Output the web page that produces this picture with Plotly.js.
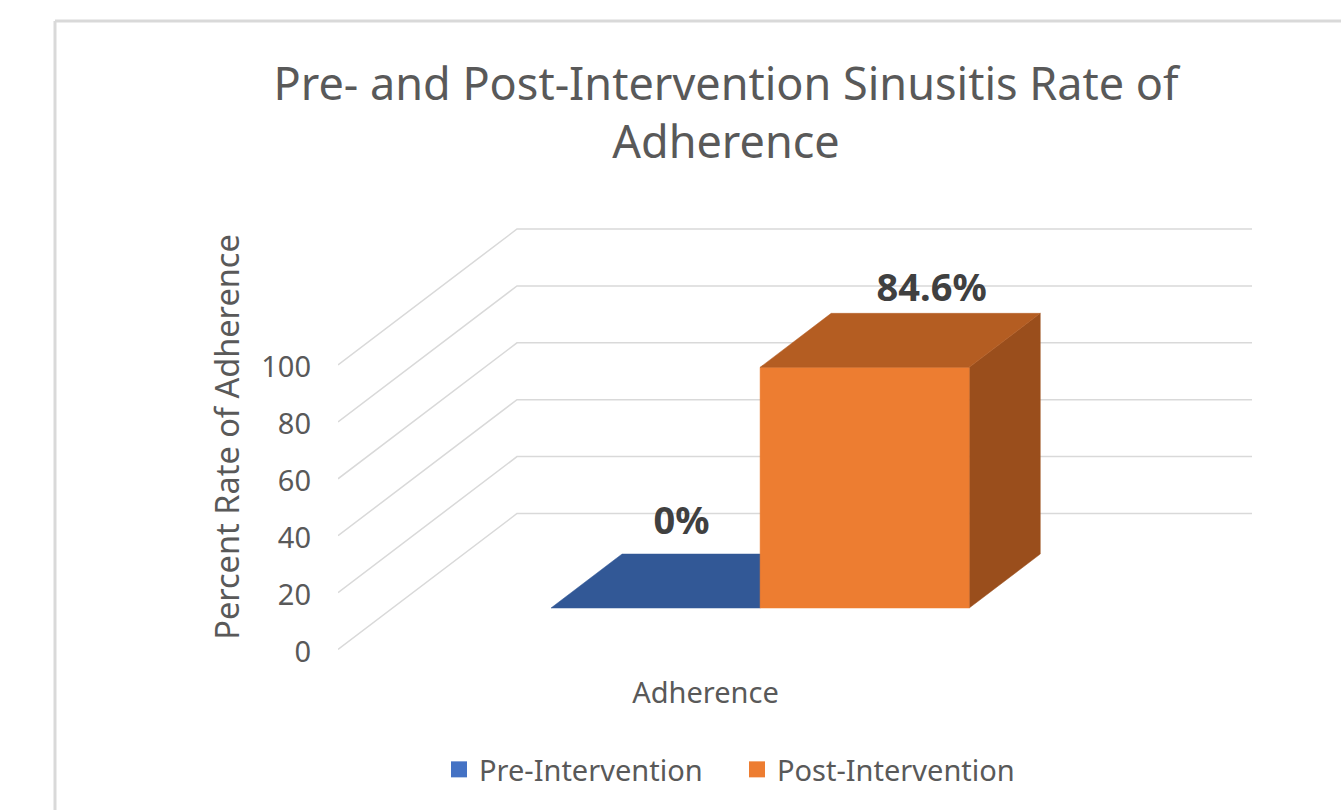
<!DOCTYPE html>
<html>
<head>
<meta charset="utf-8">
<script src="https://cdn.plot.ly/plotly-3.0.1.min.js"></script>
<style>html,body{margin:0;padding:0;background:#fff;overflow:hidden}</style>
</head>
<body>
<div id="chart" style="width:1341px;height:810px"></div>
<script>
// ---- data ----
const seriesNames = ["Pre-Intervention", "Post-Intervention"];
const seriesValues = [0, 84.6];
const valueLabels = ["0%", "84.6%"];
const tickValues = [0, 20, 40, 60, 80, 100];
const categoryName = "Adherence";
const titleLines = ["Pre- and Post-Intervention Sinusitis Rate of", "Adherence"];
const yTitle = "Percent Rate of Adherence";

// ---- styles ----
const frontColors = ["#4472C4", "#ED7D31"];
const topColors = ["#325896", "#B45D22"];
const sideColors = ["#2A4A7E", "#9A4E1C"];
const FONT = '"Noto Sans", sans-serif';

// ---- layout in pixels ----
const W = 1341, H = 810;
const plotL = 338, catR = 1073, wallR = 1252, plotT = 214, plotB = 660;
const zeroPx = 649.5, pxPerUnit = 2.845;
const depthPxX = 179, depthPxY = 136;
const catPx = catR - plotL;
const xShift = depthPxX / catPx;
const yShift = depthPxY / pxPerUnit;
const barWidth = 0.2845, depthFront = 0.305, depthBack = 0.702;
const yRange = [(zeroPx - plotB) / pxPerUnit, (zeroPx - plotT) / pxPerUnit];
const labelNudgePx = [[-45, 30], [-4, 22]];

// oblique projection of (category position, value, depth) onto the page
const proj = (x, v, d) => [x + d * xShift, v + d * yShift];

const common = {hoverinfo: "skip", showlegend: false, cliponaxis: false, type: "scatter", xaxis: "x2", yaxis: "y"};

function poly(pts, color) {
  const p = pts.concat([pts[0]]);
  return Object.assign({
    x: p.map(a => a[0]), y: p.map(a => a[1]), mode: "lines", fill: "toself",
    fillcolor: color, line: {color: color, width: 0.5}
  }, common);
}

const traces = [];
// wall and floor gridlines
tickValues.forEach(v => {
  const a = proj(0, v, 0), b = proj(0, v, 1), c = proj(1, v, 1);
  traces.push(Object.assign({
    x: [a[0], b[0], c[0]], y: [a[1], b[1], c[1]], mode: "lines",
    line: {color: "#D9D9D9", width: 1.5}
  }, common));
});
// bars
seriesValues.forEach((v, i) => {
  const x0 = 0.5 + (i - 1) * barWidth, x1 = x0 + barWidth;
  if (v > 0) {
    traces.push(poly([proj(x1, 0, depthFront), proj(x1, 0, depthBack), proj(x1, v, depthBack), proj(x1, v, depthFront)], sideColors[i]));
    traces.push(poly([proj(x0, 0, depthFront), proj(x1, 0, depthFront), proj(x1, v, depthFront), proj(x0, v, depthFront)], frontColors[i]));
  }
  traces.push(poly([proj(x0, v, depthFront), proj(x1, v, depthFront), proj(x1, v, depthBack), proj(x0, v, depthBack)], topColors[i]));
});
// value labels
seriesValues.forEach((v, i) => {
  const x0 = 0.5 + (i - 1) * barWidth;
  const p = proj(x0 + barWidth / 2 + labelNudgePx[i][0] / catPx, v + labelNudgePx[i][1] / pxPerUnit, depthBack);
  traces.push(Object.assign({
    x: [p[0]], y: [p[1]], mode: "text", text: [valueLabels[i]],
    textposition: "middle center", textfont: {family: FONT, size: 38, color: "#404040", weight: 700}
  }, common));
});
// legend entries
seriesNames.forEach((n, i) => traces.push({
  x: [null], y: [null], mode: "markers", name: n, type: "scatter",
  marker: {symbol: "square", size: 18, color: frontColors[i]}
}));

const pxY = px => (plotB - px) / (plotB - plotT);
const frame = {color: "#D9D9D9", width: 3};

Plotly.newPlot("chart", traces, {
  width: W, height: H, paper_bgcolor: "#fff", plot_bgcolor: "rgba(0,0,0,0)",
  margin: {l: plotL, r: W - wallR, t: plotT, b: H - plotB, autoexpand: false},
  font: {family: FONT, color: "#595959"},
  title: {
    text: titleLines.join("<br>"), font: {family: FONT, size: 45, color: "#595959"},
    x: 726 / W, xanchor: "center", y: 1 - 99.5 / H, yanchor: "top"
  },
  xaxis: {
    domain: [0, catPx / (wallR - plotL)], range: [0, 1],
    showgrid: false, zeroline: false, showline: false, showticklabels: false, ticks: "",
    fixedrange: true,
    title: {text: categoryName, font: {size: 29, color: "#595959"}, standoff: 22}
  },
  xaxis2: {
    domain: [0, 1], range: [0, (wallR - plotL) / catPx], anchor: "y",
    showgrid: false, zeroline: false, showline: false, showticklabels: false, ticks: "", fixedrange: true
  },
  yaxis: {
    range: yRange, tickmode: "array", tickvals: tickValues, showgrid: false, zeroline: false, showline: false,
    ticks: "", ticklabelstandoff: 26, ticklabelshift: 2, fixedrange: true, tickfont: {size: 29, color: "#595959"},
    title: {text: yTitle, font: {size: 32.5, color: "#595959"}, standoff: 11}
  },
  showlegend: true,
  legend: {
    orientation: "h", x: (439 - plotL) / (wallR - plotL), xanchor: "left",
    y: pxY(744), yanchor: "top",
    font: {size: 29, color: "#595959"}, entrywidth: 253, entrywidthmode: "pixels",
    itemwidth: 30, bgcolor: "rgba(0,0,0,0)", itemclick: false, itemdoubleclick: false
  },
  shapes: [
    {type: "line", xref: "paper", yref: "paper", x0: (55 - plotL) / (wallR - plotL), x1: 1.5, y0: pxY(21), y1: pxY(21), line: frame, layer: "below"},
    {type: "line", xref: "paper", yref: "paper", x0: (55 - plotL) / (wallR - plotL), x1: (55 - plotL) / (wallR - plotL), y0: pxY(21), y1: pxY(H + 5), line: frame, layer: "below"}
  ],
  hovermode: false
}, {displayModeBar: false});
</script>
</body>
</html>
